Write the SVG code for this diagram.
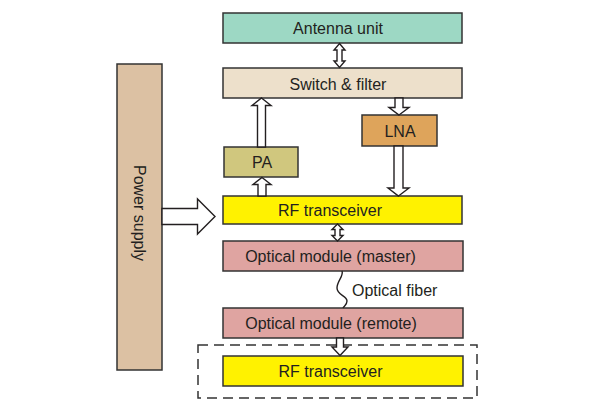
<svg xmlns="http://www.w3.org/2000/svg" width="595" height="412" viewBox="0 0 595 412">
<style>
.box{stroke:#333;stroke-width:1.5}
.lbl{font-family:"Liberation Sans",Arial,sans-serif;font-size:16px;fill:#231f20}
.arr{fill:#fff;stroke:#231f20;stroke-width:1.4;stroke-linejoin:miter}
</style>
<rect width="595" height="412" fill="#fff"/>
<g id="power-supply">
<rect class="box" x="117" y="64" width="45" height="306" fill="#dcc1a3"/>
<text class="lbl" transform="translate(139.5,213) rotate(90)" x="0" y="5.5" text-anchor="middle">Power supply</text>
</g>
<g id="antenna-unit">
<rect class="box" x="223" y="13" width="239" height="30" fill="#9dd8c4"/>
<text class="lbl" x="338" y="34" text-anchor="middle">Antenna unit</text>
</g>
<g id="switch-filter">
<rect class="box" x="223" y="68" width="239" height="30" fill="#ede0cb"/>
<text class="lbl" x="338" y="89.5" text-anchor="middle">Switch &amp; filter</text>
</g>
<g id="lna">
<rect class="box" x="362" y="115" width="75" height="31" fill="#dea45b"/>
<text class="lbl" x="400" y="137" text-anchor="middle">LNA</text>
</g>
<g id="pa">
<rect class="box" x="224" y="147" width="74" height="30" fill="#d0c77e"/>
<text class="lbl" x="262" y="168" text-anchor="middle">PA</text>
</g>
<g id="rf-transceiver">
<rect class="box" x="223" y="196" width="239" height="28" fill="#fff200"/>
<text class="lbl" x="330" y="216" text-anchor="middle">RF transceiver</text>
</g>
<g id="optical-master">
<rect class="box" x="223" y="241" width="240" height="30" fill="#dfa4a1"/>
<text class="lbl" x="330.5" y="262" text-anchor="middle">Optical module (master)</text>
</g>
<g id="optical-remote">
<rect class="box" x="223" y="308" width="240" height="30" fill="#dfa4a1"/>
<text class="lbl" x="331" y="329" text-anchor="middle">Optical module (remote)</text>
</g>
<g id="remote-unit">
<rect x="198" y="345" width="279" height="53" fill="none" stroke="#333" stroke-width="1.5" stroke-dasharray="10,6"/>
</g>
<g id="rf-transceiver-remote">
<rect class="box" x="223" y="356" width="240" height="30" fill="#fff200"/>
<text class="lbl" x="330.5" y="377" text-anchor="middle">RF transceiver</text>
</g>
<g id="connectors">
<polygon class="arr" points="339.5,43.5 345,50 342,50 342,61 345,61 339.5,67.5 334,61 337,61 337,50 334,50"/>
<polygon class="arr" points="261.5,98 271,105.5 265.5,105.5 265.5,147 257.5,147 257.5,105.5 252,105.5"/>
<polygon class="arr" points="399,115 409,107.5 403,107.5 403,98 395,98 395,107.5 389,107.5"/>
<polygon class="arr" points="398.5,196 409,188 403,188 403,146 394,146 394,188 388,188"/>
<polygon class="arr" points="262,177.5 271,184.5 266,184.5 266,196 258,196 258,184.5 253,184.5"/>
<polygon class="arr" points="215,216.5 197.5,199 197.5,208.5 162,208.5 162,224.5 197.5,224.5 197.5,234"/>
<polygon class="arr" points="337.5,224 343,229.5 340,229.5 340,235.5 343,235.5 337.5,241 332,235.5 335,235.5 335,229.5 332,229.5"/>
<polygon class="arr" points="340,355.5 348,347 343.5,347 343.5,338 336.5,338 336.5,347 332,347"/>
<path d="M342,271 C344,276 337,281 337,288 C337,295 347,296 347,301 C347,305 344,306 343,308" fill="none" stroke="#231f20" stroke-width="1.4"/>
<text class="lbl" x="352" y="296">Optical fiber</text>
</g>
</svg>
